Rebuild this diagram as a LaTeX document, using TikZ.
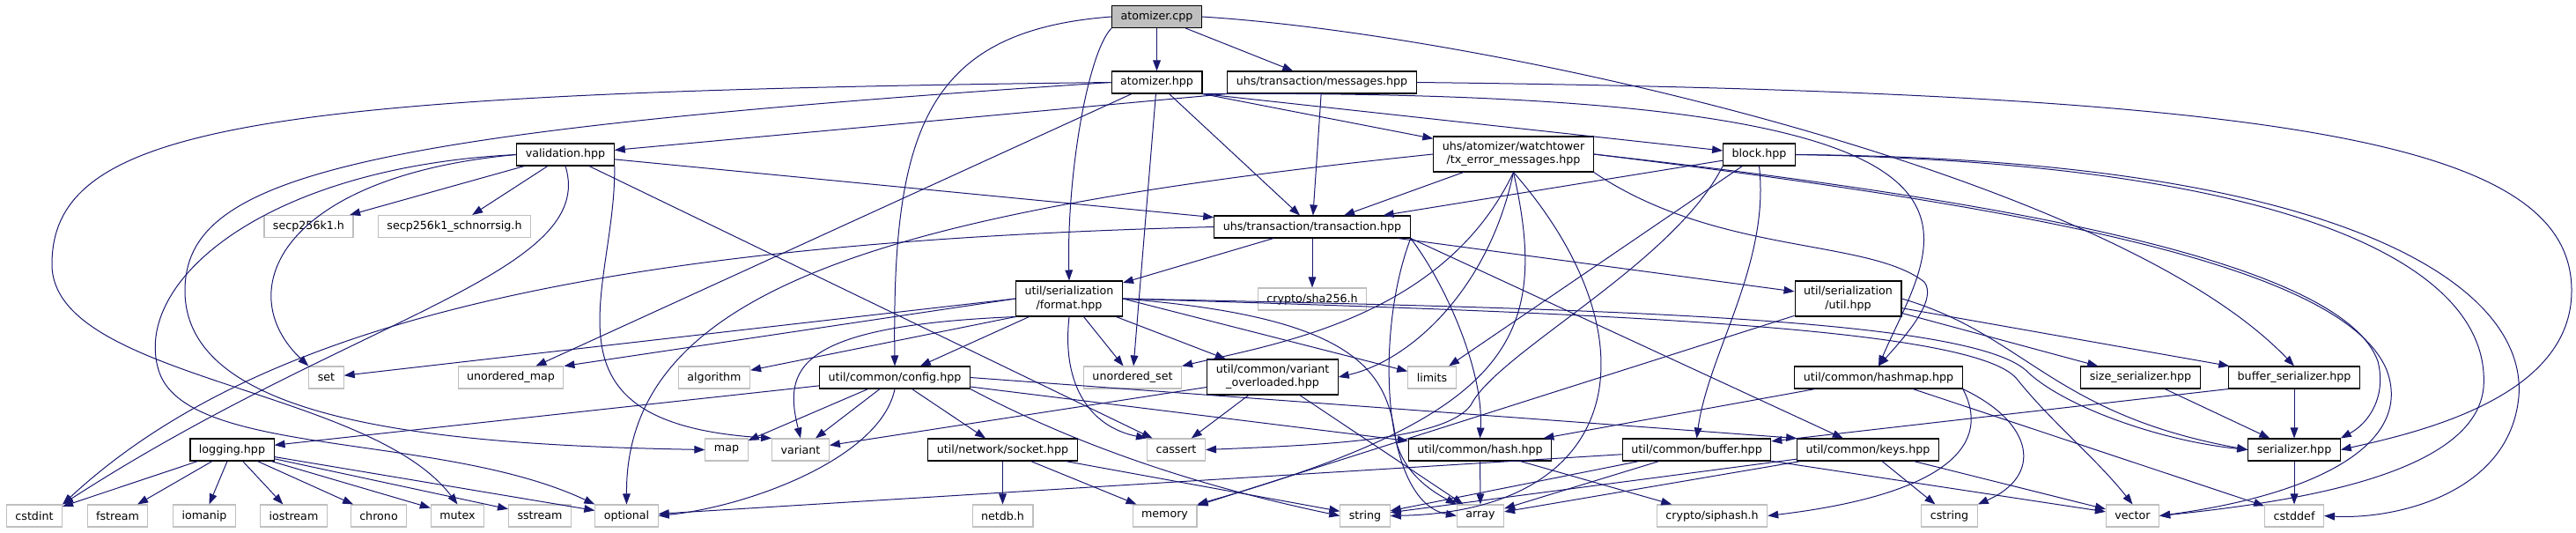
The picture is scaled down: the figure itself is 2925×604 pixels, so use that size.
\documentclass[tikz,border=0pt]{standalone}
\usepackage{fontspec}
\setmainfont{DejaVu Sans}
\usepackage{xcolor}
\usepackage{tikz}
\usetikzlibrary{arrows.meta}

\definecolor{edgeblue}{HTML}{191970}
\definecolor{grey75}{HTML}{BFBFBF}

\begin{document}
\begin{tikzpicture}[
    x=0.75pt, y=-0.75pt,
    doc/.style={rectangle, draw=black, fill=white, line width=0.8pt, inner xsep=7.5pt, inner ysep=2pt, minimum height=18.75pt, align=center, font=\fontsize{9.5}{11.5}\selectfont},
    twoline/.style={doc, minimum height=30pt},
    ext/.style={doc, draw=grey75},
    root/.style={doc, fill=grey75},
    arr/.style={-{Triangle[length=9pt, width=6.5pt]}, draw=edgeblue, line width=0.75pt}
  ]
    \useasboundingbox (0,0) rectangle (2925,604);

    \node[root] (acpp) at (1313.5,19) {atomizer.cpp};
    \node[doc] (ahpp) at (1313.5,93.5) {atomizer.hpp};
    \node[doc] (msgs) at (1501,93.5) {uhs/transaction/messages.hpp};
    \node[doc] (valid) at (642,175.5) {validation.hpp};
    \node[twoline] (txerr) at (1718.5,175) {uhs/atomizer/watchtower\\/tx\_error\_messages.hpp};
    \node[doc] (block) at (1997.5,175.5) {block.hpp};
    \node[doc] (trans) at (1490,257.5) {uhs/transaction/transaction.hpp};
    \node[ext] (secp) at (350.5,257) {secp256k1.h};
    \node[ext] (schnorr) at (516,257) {secp256k1\_schnorrsig.h};
    \node[ext] (sha) at (1490,339.5) {crypto/sha256.h};
    \node[twoline] (format) at (1214,339) {util/serialization\\/format.hpp};
    \node[twoline] (sutil) at (2098.5,339) {util/serialization\\/util.hpp};
    \node[ext] (set) at (370.5,428.5) {set};
    \node[ext] (umap) at (580,428.5) {unordered\_map};
    \node[ext] (algo) at (811,428.5) {algorithm};
    \node[doc] (config) at (1016,428.5) {util/common/config.hpp};
    \node[ext] (uset) at (1286,428.5) {unordered\_set};
    \node[twoline] (varov) at (1445,428) {util/common/variant\\\_overloaded.hpp};
    \node[ext] (limits) at (1626,428.5) {limits};
    \node[doc] (hashmap) at (2133,428.5) {util/common/hashmap.hpp};
    \node[doc] (sizeser) at (2430.5,428.5) {size\_serializer.hpp};
    \node[doc] (bufser) at (2605,428.5) {buffer\_serializer.hpp};
    \node[doc] (logging) at (263.5,510.5) {logging.hpp};
    \node[ext] (map) at (825,510.5) {map};
    \node[ext] (variant) at (909,510.5) {variant};
    \node[doc] (socket) at (1138.5,510.5) {util/network/socket.hpp};
    \node[ext] (cassert) at (1335.5,510.5) {cassert};
    \node[doc] (hash) at (1680.5,510.5) {util/common/hash.hpp};
    \node[doc] (buffer) at (1926.5,510.5) {util/common/buffer.hpp};
    \node[doc] (keys) at (2121,510.5) {util/common/keys.hpp};
    \node[doc] (serializer) at (2605,510.5) {serializer.hpp};
    \foreach \n/\x/\t in {cstdint/39/cstdint, fstream/133.5/fstream, iomanip/232/iomanip,
        iostream/333.5/iostream, chrono/430/chrono, mutex/519.5/mutex, sstream/613/sstream,
        optional/711.5/optional, netdb/1138.5/netdb.h, memory/1322.5/memory, string/1550/string,
        array/1681/array, siphash/1944/{crypto/siphash.h}, cstring/2213.5/cstring,
        vector/2421.5/vector, cstddef/2605/cstddef}
      \node[ext] (\n) at (\x,585.5) {\t};

    \foreach \i/\j in {acpp/ahpp, acpp/msgs, ahpp/trans, ahpp/umap, ahpp/uset, msgs/trans,
        valid/secp, valid/schnorr, valid/trans, valid/cassert, txerr/trans, block/trans,
        block/limits, trans/format, trans/sutil, format/config, format/uset, format/varov,
        sutil/sizeser, sutil/bufser, sutil/memory, config/logging, config/map, config/variant,
        config/socket, config/hash, varov/variant, varov/cassert, varov/array, socket/netdb,
        socket/memory, socket/string, hashmap/hash, hashmap/cstddef, hash/array, hash/siphash,
        buffer/optional, buffer/array, buffer/vector, buffer/string, keys/array, keys/string,
        keys/cstring, keys/vector, sizeser/serializer, bufser/serializer, serializer/cstddef,
        logging/cstdint, logging/fstream, logging/iomanip, logging/iostream, logging/chrono,
        logging/mutex, logging/sstream, logging/optional}
      \draw[arr] (\i) -- (\j);

    \draw[arr] (acpp.west) .. controls (1050,35) and (1013,150) .. (config.north);
    \draw[arr] (acpp.south west) .. controls (1235,60) and (1211,200) .. (format.north);
    \draw[arr] (acpp.east) .. controls (1700,40) and (2400,200) .. (bufser.north);
    \draw[arr] (ahpp.south east) -- (block);
    \draw[arr] (ahpp.south east) -- (txerr);
    \draw[arr] (ahpp.south east) .. controls (2350,100) and (2200,260) .. (hashmap.north);
    \draw[arr] (ahpp.west) .. controls (300,105) and (59,140) .. (59,300) .. controls (59,430) and (420,440) .. (mutex.north);
    \draw[arr] (ahpp.west) .. controls (400,150) and (210,200) .. (210,330) .. controls (210,480) and (500,505) .. (map.west);
    \draw[arr] (msgs.south west) -- (valid);
    \draw[arr] (msgs.east) .. controls (2600,105) and (2920,160) .. (2920,330) .. controls (2920,450) and (2750,490) .. (serializer.east);
    \draw[arr] (valid.west) .. controls (320,200) and (260,330) .. (set.north west);
    \draw[arr] (valid.west) .. controls (300,190) and (150,320) .. (180,420) .. controls (210,520) and (500,490) .. (optional.north west);
    \draw[arr] (valid.south) .. controls (680,310) and (400,360) .. (cstdint.north east);
    \draw[arr] (valid.south east) .. controls (700,330) and (600,480) .. (variant.north west);
    \draw[arr] (txerr.south) .. controls (1640,360) and (1450,390) .. (uset.north east);
    \draw[arr] (txerr.south) .. controls (1690,330) and (1600,410) .. (varov.east);
    \draw[arr] (txerr.south) .. controls (1760,380) and (1720,470) .. (memory.north east);
    \draw[arr] (txerr.south) .. controls (1880,380) and (1850,580) .. (string.east);
    \draw[arr] (txerr.west) .. controls (1000,240) and (710,330) .. (optional.north);
    \draw[arr] (txerr.south east) .. controls (1950,290) and (2120,270) .. (2185,320) .. controls (2200,340) and (2165,380) .. (hashmap.north);
    \draw[arr] (txerr.east) .. controls (2300,230) and (2660,300) .. (2700,410) .. controls (2710,450) and (2690,480) .. (serializer.north east);
    \draw[arr] (txerr.east) .. controls (2300,235) and (2660,300) .. (2710,420) .. controls (2740,500) and (2640,560) .. (vector.east);
    \draw[arr] (block.south) .. controls (2010,300) and (1940,400) .. (buffer.north);
    \draw[arr] (block.south west) .. controls (1900,300) and (1700,400) .. (1670,460) .. controls (1640,500) and (1500,505) .. (cassert.east);
    \draw[arr] (block.east) .. controls (2600,185) and (2830,300) .. (2820,440) .. controls (2810,540) and (2600,570) .. (vector.east);
    \draw[arr] (block.east) .. controls (2650,180) and (2870,320) .. (2860,450) .. controls (2850,560) and (2720,590) .. (cstddef.east);
    \draw[arr] (trans.south) -- (sha);
    \draw[arr] (trans.south east) -- (keys);
    \draw[arr] (trans.south east) .. controls (1640,320) and (1685,420) .. (hash.north);
    \draw[arr] (trans.south east) .. controls (1560,380) and (1570,570) .. (array.west);
    \draw[arr] (trans.west) .. controls (700,275) and (300,360) .. (cstdint.north east);
    \draw[arr] (format.west) -- (set);
    \draw[arr] (format.west) -- (umap.north east);
    \draw[arr] (format.south west) -- (algo);
    \draw[arr] (format.east) -- (limits);
    \draw[arr] (format.south west) .. controls (900,370) and (890,420) .. (variant.north);
    \draw[arr] (format.south) .. controls (1205,440) and (1240,485) .. (cassert.north west);
    \draw[arr] (format.east) .. controls (1540,360) and (1575,420) .. (1585,500) .. controls (1595,540) and (1630,560) .. (array.north west);
    \draw[arr] (format.east) .. controls (1800,350) and (2230,360) .. (2300,420) .. controls (2340,460) and (2450,500) .. (serializer.west);
    \draw[arr] (format.east) .. controls (1800,355) and (2240,370) .. (2290,430) .. controls (2330,480) and (2380,520) .. (vector.north);
    \draw[arr] (sutil.east) .. controls (2300,380) and (2330,470) .. (serializer.west);
    \draw[arr] (config.south) .. controls (1000,520) and (850,575) .. (optional.east);
    \draw[arr] (config.south east) .. controls (1250,520) and (1400,560) .. (string.west);
    \draw[arr] (config.east) -- (keys.north west);
    \draw[arr] (hashmap.south east) .. controls (2260,500) and (2220,560) .. (siphash.east);
    \draw[arr] (hashmap.south east) .. controls (2310,480) and (2320,540) .. (cstring.north east);
    \draw[arr] (bufser.south west) -- (buffer);
  \end{tikzpicture}
\end{document}
